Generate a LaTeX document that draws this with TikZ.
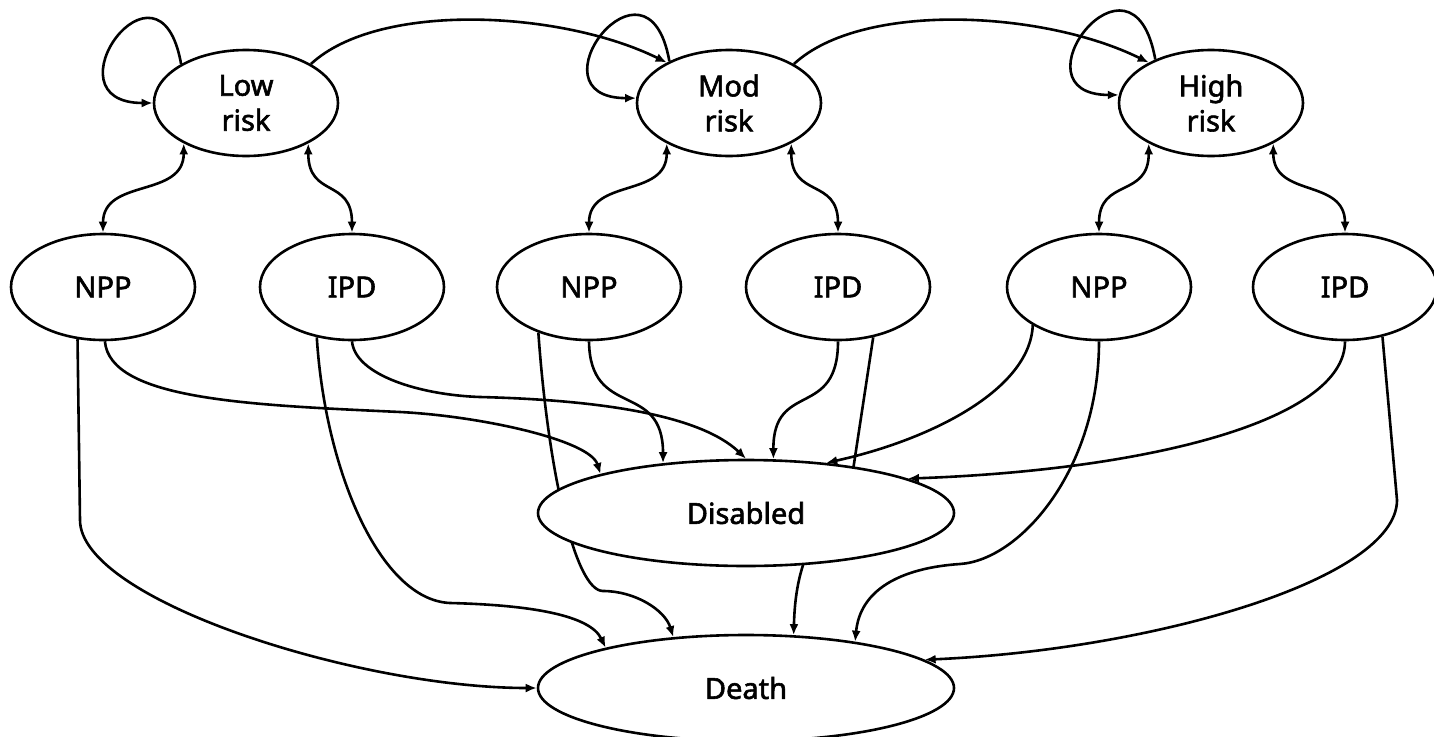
\documentclass[tikz,border=0pt]{standalone}
\usepackage{fontspec}
\setmainfont{Noto Sans}
\newfontfamily\statefont{Noto Sans}[FakeBold=2]
\usetikzlibrary{shapes.geometric,arrows.meta,backgrounds}

\begin{document}
\begin{tikzpicture}[x=1pt, y=1pt, line width=2.6pt, >={Latex[length=11pt,width=9pt]},
  state/.style={draw, ellipse, fill=white, inner sep=0pt, align=center,
    minimum width=184pt, minimum height=106pt, font=\statefont\fontsize{29}{35}\selectfont},
  outcome/.style={state, minimum width=416pt},
  link/.style={line width=2.6pt, >={Latex[length=11pt,width=9pt]}}]
\useasboundingbox (0,0) rectangle (1434,-736);

% risk levels
\node[state] (low) at (246,-103) {Low\\risk};
\node[state] (mod) at (729,-103) {Mod\\risk};
\node[state] (high) at (1211,-103) {High\\risk};

% events
\node[state] (npp1) at (103,-287) {NPP};
\node[state] (ipd1) at (352,-287) {IPD};
\node[state] (npp2) at (589,-287) {NPP};
\node[state] (ipd2) at (838,-287) {IPD};
\node[state] (npp3) at (1099,-287) {NPP};
\node[state] (ipd3) at (1345,-287) {IPD};

% outcomes
\node[outcome] (dis) at (746,-513) {Disabled};
\node[outcome] (death) at (746,-688) {Death};

\begin{pgfonlayer}{background}
\begin{scope}[link]
% stay and move up
\draw[->] (low.149) .. controls +(100:125) and +(180:110) .. (low.180);
\draw[->] (mod.145) .. controls +(100:125) and +(180:110) .. (mod.177);
\draw[->] (high.142) .. controls +(100:130) and +(180:110) .. (high.175);
\draw[->] (low.31) .. controls +(68,63) and +(-105,52) .. (mod.147);
\draw[->] (mod.31) .. controls +(68,63) and +(-105,52) .. (high.147);

% to and from events
\draw[<->] (low.213) .. controls +(0,-55) and +(0,55) .. (npp1.90);
\draw[<->] (low.327) .. controls +(0,-55) and +(0,55) .. (ipd1.90);
\draw[<->] (mod.213) .. controls +(0,-55) and +(0,55) .. (npp2.90);
\draw[<->] (mod.327) .. controls +(0,-55) and +(0,55) .. (ipd2.90);
\draw[<->] (high.213) .. controls +(0,-55) and +(0,55) .. (npp3.90);
\draw[<->] (high.327) .. controls +(0,-55) and +(0,55) .. (ipd3.90);

% events to outcomes
\draw[->] (npp1.244) -- (80,-520) .. controls (80,-600) and (358,-688) .. (death.west);
\draw[->] (npp1.272) .. controls (110,-400) and (250,-405) .. (400,-412) .. controls (480,-416) and (590,-440) .. (dis.165);
\draw[->] (ipd1.235) .. controls (325,-470) and (380,-600) .. (450,-603) .. controls (530,-605) and (590,-615) .. (death.164);
\draw[->] (ipd1.270) .. controls (355,-375) and (420,-395) .. (480,-397) .. controls (600,-400) and (700,-415) .. (dis.90);
\draw[->] (npp2.222) .. controls (548,-470) and (575,-591) .. (603,-591) .. controls (635,-591) and (665,-610) .. (death.145);
\draw[->] (npp2.270) .. controls (590,-420) and (663,-380) .. (dis.149);
\draw[->] (ipd2.270) .. controls (838,-420) and (773,-380) .. (dis.63);
\draw[->] (ipd2.305) -- (850,-490) .. controls (800,-540) and (795,-590) .. (death.48);
\draw[->] (npp3.210) .. controls (1030,-390) and (930,-440) .. (dis.32);
\draw[->] (npp3.270) .. controls (1099,-470) and (1020,-560) .. (960,-564) .. controls (900,-568) and (860,-590) .. (death.23);
\draw[->] (ipd3.270) .. controls (1345,-420) and (1150,-470) .. (dis.12);
\draw[->] (ipd3.307) -- (1397,-500) .. controls (1397,-580) and (1150,-650) .. (death.9);
\end{scope}
\end{pgfonlayer}
\end{tikzpicture}
\end{document}
